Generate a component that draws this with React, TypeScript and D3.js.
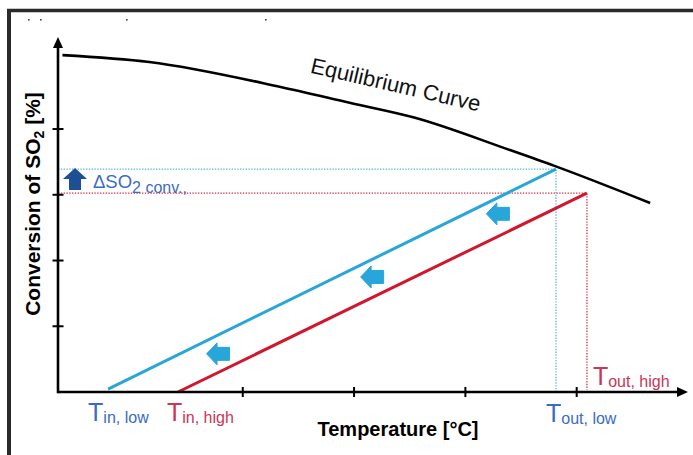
import * as d3 from "d3";

const W = 693;
const H = 455;

// axis ticks (no labels on the original)
const xTicks = [450, 500, 550, 600];
const yTicks = [20, 40, 60, 80];

// equilibrium curve
const curveTemp = [369, 408, 467, 498, 527, 570, 590, 633];
const curveConv = [102.5, 100.4, 92.8, 88.0, 83.5, 73.6, 68.8, 57.5];

// adiabatic runs (low / high inlet temperature)
const lowRunTemp = [389.5, 590.7];
const lowRunConv = [0.9, 67.8];
const highRunTemp = [420.9, 604.6];
const highRunConv = [0, 60.5];

// left-pointing block arrows between the two runs
const shiftTemp = [438.9, 508.1, 564.6];
const shiftConv = [11.6, 35.0, 54.2];

const FONT = "'Liberation Sans', Arial, sans-serif";
const BLUE = "#28a6da";
const RED = "#d0172e";
const BLUE_TXT = "#3a6cc4";
const RED_TXT = "#cc3458";

const x = d3.scaleLinear().domain([367, 650]).range([58, 688]);
const y = d3.scaleLinear().domain([0, 108]).range([392, 37]);

const curveLine = d3
  .line<number>()
  .x((_, i) => x(curveTemp[i]))
  .y((_, i) => y(curveConv[i]))
  .curve(d3.curveMonotoneX);

const leftArrow = "M-11.5,0 L-1,-11 L-1,-6.5 L11.5,-6.5 L11.5,6.5 L-1,6.5 L-1,11 Z";
const upArrow = "M0,-11 L12,0 L6,0 L6,11 L-6,11 L-6,0 L-12,0 Z";

export default function App() {
  const x0 = x.range()[0];
  const x1 = x.range()[1];
  const y0 = y.range()[0];
  const y1 = y.range()[1];

  const lowEnd = { px: x(lowRunTemp[1]), py: y(lowRunConv[1]) };
  const highEnd = { px: x(highRunTemp[1]), py: y(highRunConv[1]) };

  return (
    <svg
      width={W}
      height={H}
      style={{ position: "absolute", left: 0, top: 0, background: "#fff" }}
      fontFamily={FONT}
    >
      {/* frame */}
      <line x1={7} x2={W} y1={10.5} y2={10.5} stroke="#2b2b2b" strokeWidth={3.5} />
      <line x1={9} x2={9} y1={9} y2={H} stroke="#2b2b2b" strokeWidth={4} />
      {[28, 40, 126, 265].map((d) => (
        <rect key={d} x={d} y={19} width={1.6} height={1.6} fill="#444" />
      ))}

      {/* dotted guides */}
      <path
        d={`M${x0},${lowEnd.py}H${lowEnd.px}V${y0}`}
        fill="none"
        stroke="#5cb6dc"
        strokeWidth={1.3}
        strokeDasharray="1.4 1.4"
      />
      <path
        d={`M${x0},${highEnd.py}H${highEnd.px}V${y0 - 2}`}
        fill="none"
        stroke="#d8364c"
        strokeWidth={1.3}
        strokeDasharray="1.4 1.4"
      />

      {/* equilibrium curve */}
      <path d={curveLine(curveTemp) ?? ""} fill="none" stroke="#000" strokeWidth={2.6} />
      <text
        transform={`translate(394,92) rotate(13)`}
        textAnchor="middle"
        fontSize={22}
        fill="#111"
      >
        Equilibrium Curve
      </text>

      {/* operating lines */}
      <line
        x1={x(lowRunTemp[0])}
        y1={y(lowRunConv[0])}
        x2={lowEnd.px}
        y2={lowEnd.py}
        stroke={BLUE}
        strokeWidth={3}
      />
      <line
        x1={x(highRunTemp[0])}
        y1={y(highRunConv[0])}
        x2={highEnd.px}
        y2={highEnd.py}
        stroke={RED}
        strokeWidth={3}
      />

      {shiftTemp.map((t, i) => (
        <path
          key={i}
          d={leftArrow}
          transform={`translate(${x(t)},${y(shiftConv[i])})`}
          fill={BLUE}
          stroke={BLUE}
          strokeWidth={1}
          strokeLinejoin="round"
        />
      ))}

      {/* axes */}
      <line x1={x0} x2={x1 - 8} y1={y0} y2={y0} stroke="#000" strokeWidth={2.6} />
      <path d={`M${x1},${y0} L${x1 - 11},${y0 - 5} L${x1 - 11},${y0 + 5} Z`} fill="#000" />
      <line x1={x0} x2={x0} y1={y0 + 1.3} y2={y1 + 8} stroke="#000" strokeWidth={2.6} />
      <path d={`M${x0},${y1} L${x0 - 5},${y1 + 11} L${x0 + 5},${y1 + 11} Z`} fill="#000" />
      {xTicks.map((t) => (
        <line key={t} x1={x(t)} x2={x(t)} y1={y0 - 5} y2={y0 + 5} stroke="#000" strokeWidth={2} />
      ))}
      {yTicks.map((t) => (
        <line key={t} x1={x0 - 5.5} x2={x0 + 5.5} y1={y(t)} y2={y(t)} stroke="#000" strokeWidth={2} />
      ))}

      {/* axis titles */}
      <text x={398} y={436} textAnchor="middle" fontSize={20} fontWeight="bold" fill="#000">
        Temperature [°C]
      </text>
      <text
        transform="translate(40,204) rotate(-90)"
        textAnchor="middle"
        fontSize={21}
        fontWeight="bold"
        fill="#000"
      >
        Conversion of SO<tspan fontSize={14} dy={4}>2</tspan>
        <tspan dy={-4}> [%]</tspan>
      </text>

      {/* delta conversion */}
      <path d={upArrow} transform="translate(75,179)" fill="#1c4f94" />
      <text x={93} y={188} fontSize={18.5} fill={BLUE_TXT}>
        ΔSO<tspan fontSize={16} dy={5}>2 conv.,</tspan>
      </text>

      {/* temperature labels */}
      <text x={x(lowRunTemp[0]) - 20} y={421} fontSize={25} fill={BLUE_TXT}>
        T<tspan fontSize={16} dy={2}>in, low</tspan>
      </text>
      <text x={x(highRunTemp[0]) - 11} y={421} fontSize={25} fill={RED_TXT}>
        T<tspan fontSize={16} dy={2}>in, high</tspan>
      </text>
      <text x={lowEnd.px - 10} y={422} fontSize={25} fill={BLUE_TXT}>
        T<tspan fontSize={16} dy={2}>out, low</tspan>
      </text>
      <text x={highEnd.px + 6} y={385} fontSize={25} fill={RED_TXT}>
        T<tspan fontSize={16} dy={2}>out, high</tspan>
      </text>
    </svg>
  );
}
